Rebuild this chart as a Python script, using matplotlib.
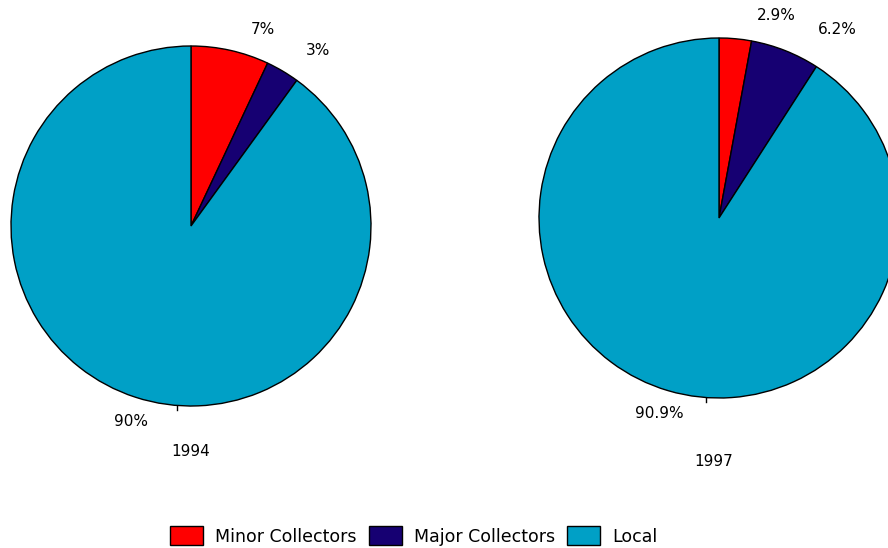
import matplotlib.pyplot as plt
from matplotlib.patches import Patch

categories = ['Minor Collectors', 'Major Collectors', 'Local']
share_1994 = [7, 3, 90]
share_1997 = [2.9, 6.2, 90.9]
labels_1994 = ['7%', '3%', '90%']
labels_1997 = ['2.9%', '6.2%', '90.9%']
years = ['1994', '1997']
colors = ['#ff0000', '#160072', '#00a0c6']

plt.rcParams['font.family'] = ['DejaVu Sans']
FS = 11

fig = plt.figure(figsize=(8.88, 5.48), dpi=100)
W, H = 888, 548


def px_axes(cx, cy, r):
    return fig.add_axes([(cx - r) / W, (H - cy - r) / H, 2 * r / W, 2 * r / H])


def draw_pie(ax, vals):
    ax.pie(vals, colors=colors, startangle=90, counterclock=False,
           wedgeprops={'edgecolor': 'black', 'linewidth': 1})
    ax.set_xlim(-1, 1)
    ax.set_ylim(-1, 1)
    ax.set_aspect('auto')
    ax.axis('off')


ax1 = px_axes(191, 226, 180)
draw_pie(ax1, share_1994)
ax2 = px_axes(719, 218, 180)
draw_pie(ax2, share_1997)

# small tick under each pie
ax1.plot([-0.08, -0.08], [-1.0, -1.02], color='black', lw=1, clip_on=False)
ax2.plot([-0.075, -0.075], [-1.0, -1.02], color='black', lw=1, clip_on=False)

# percentage labels
lab_pos_1994 = [(263, 30), (318, 50), (131, 421)]
lab_pos_1997 = [(776, 16), (837, 30), (659, 413)]
for txt, (x, y) in zip(labels_1994 + labels_1997, lab_pos_1994 + lab_pos_1997):
    fig.text(x / W, 1 - y / H, txt, ha='center', va='center', fontsize=FS)

# year captions
fig.text(191 / W, 1 - 451 / H, years[0], ha='center', va='center', fontsize=FS)
fig.text(714 / W, 1 - 461 / H, years[1], ha='center', va='center', fontsize=FS)

# legend
handles = [Patch(facecolor=c, edgecolor='black', linewidth=1) for c in colors]
fig.legend(handles, categories, loc='center', bbox_to_anchor=(414 / W, 12 / H),
           ncol=3, frameon=False, fontsize=12.5, handlelength=1.9, handleheight=1.26,
           handletextpad=0.7, columnspacing=0.7, borderaxespad=0)

fig.savefig('out.png', dpi=100)
